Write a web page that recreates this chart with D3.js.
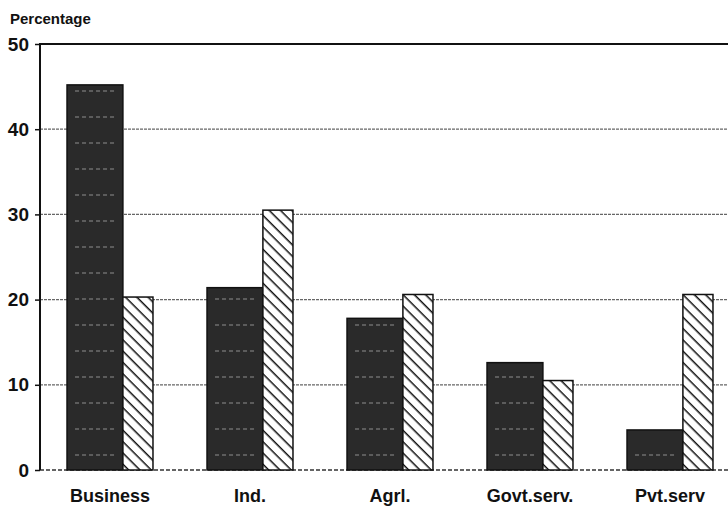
<!DOCTYPE html>
<html>
  <head>
    <meta charset="utf-8">
    <title>Percentage by occupation</title>
    <script src="https://d3js.org/d3.v7.min.js"></script>
    <style>
      body { margin: 0; background: #fff; }
      text { font-family: "Liberation Sans", Arial, sans-serif; font-weight: bold; fill: #111; }
    </style>
  </head>
  <body>
    <script>
      // chart values
      const categories = ["Business", "Ind.", "Agrl.", "Govt.serv.", "Pvt.serv"];
      const darkValues = [45.2, 21.4, 17.8, 12.6, 4.7];
      const hatchValues = [20.3, 30.5, 20.6, 10.5, 20.6];
      const yTicks = [0, 10, 20, 30, 40, 50];

      const width = 728;
      const height = 510;
      const plotLeft = 40;
      const plotTop = 44;
      const plotBottom = 470;

      const svg = d3.select("body").append("svg")
        .attr("width", width)
        .attr("height", height);

      const defs = svg.append("defs");

      // diagonal hatch (\\\) for the second series
      const hatch = defs.append("pattern")
        .attr("id", "hatch")
        .attr("patternUnits", "userSpaceOnUse")
        .attr("width", 8)
        .attr("height", 8)
        .attr("patternTransform", "rotate(45)");
      hatch.append("rect").attr("width", 8).attr("height", 8).attr("fill", "#fff");
      hatch.append("line")
        .attr("x1", 0).attr("y1", 0).attr("x2", 8).attr("y2", 0)
        .attr("stroke", "#111").attr("stroke-width", 3);

      // dark photocopied fill with faint light dashes
      const dark = defs.append("pattern")
        .attr("id", "dark")
        .attr("patternUnits", "userSpaceOnUse")
        .attr("width", 56)
        .attr("height", 26);
      dark.append("rect").attr("width", 56).attr("height", 26).attr("fill", "#2a2a2a");
      dark.append("line")
        .attr("x1", 8).attr("y1", 13).attr("x2", 48).attr("y2", 13)
        .attr("stroke", "#bbb").attr("stroke-width", 1.5)
        .attr("stroke-dasharray", "4,3").attr("opacity", 0.45);

      const x = d3.scaleBand()
        .domain(categories)
        .range([plotLeft, plotLeft + 700])
        .paddingInner(0.386)
        .paddingOuter(0.193);

      const y = d3.scaleLinear()
        .domain([0, 50])
        .range([plotBottom, plotTop]);

      // position inside a group: dark bar then hatched bar
      const inner = d3.scaleLinear().domain([0, 1]).range([0, x.bandwidth()]);
      const split = 0.65;

      // gridlines
      svg.append("g")
        .selectAll("line")
        .data(yTicks.filter(d => d > 0 && d < 50))
        .join("line")
          .attr("x1", plotLeft)
          .attr("x2", width)
          .attr("y1", d => y(d))
          .attr("y2", d => y(d))
          .attr("stroke", "#666")
          .attr("stroke-width", 1.3)
          .attr("stroke-dasharray", "3,1");

      // zero baseline
      svg.append("line")
        .attr("x1", plotLeft).attr("x2", width)
        .attr("y1", y(0)).attr("y2", y(0))
        .attr("stroke", "#333")
        .attr("stroke-width", 1.5)
        .attr("stroke-dasharray", "4,2");

      const groups = svg.append("g")
        .selectAll("g")
        .data(categories)
        .join("g")
          .attr("transform", d => "translate(" + x(d) + ",0)");

      groups.append("rect")
        .attr("x", inner(0))
        .attr("width", inner(split) - inner(0))
        .attr("y", (d, i) => y(darkValues[i]))
        .attr("height", (d, i) => y(0) - y(darkValues[i]))
        .attr("fill", "url(#dark)")
        .attr("stroke", "#111")
        .attr("stroke-width", 1.5);

      groups.append("rect")
        .attr("x", inner(split))
        .attr("width", inner(1) - inner(split))
        .attr("y", (d, i) => y(hatchValues[i]))
        .attr("height", (d, i) => y(0) - y(hatchValues[i]))
        .attr("fill", "url(#hatch)")
        .attr("stroke", "#111")
        .attr("stroke-width", 1.5);

      // frame: left axis and top line
      svg.append("path")
        .attr("d", "M" + plotLeft + "," + y(0) + "V" + y(50) + "H" + width)
        .attr("fill", "none")
        .attr("stroke", "#111")
        .attr("stroke-width", 2);

      const yAxis = d3.axisLeft(y)
        .tickValues(yTicks)
        .tickSize(5)
        .tickPadding(6);

      svg.append("g")
        .attr("transform", "translate(" + plotLeft + ",0)")
        .call(yAxis)
        .call(g => g.select(".domain").remove())
        .call(g => g.selectAll("line").attr("stroke", "#111").attr("stroke-width", 1.5))
        .call(g => g.selectAll("text")
          .attr("font-size", 19)
          .attr("font-family", "'Liberation Sans', Arial, sans-serif")
          .attr("font-weight", "bold")
          .attr("fill", "#111"));

      const xAxis = d3.axisBottom(x).tickSize(0).tickPadding(19);

      svg.append("g")
        .attr("transform", "translate(0," + y(0) + ")")
        .call(xAxis)
        .call(g => g.select(".domain").remove())
        .call(g => g.selectAll("text")
          .attr("font-size", 18)
          .attr("font-family", "'Liberation Sans', Arial, sans-serif")
          .attr("font-weight", "bold")
          .attr("fill", "#111"));

      svg.append("text")
        .attr("x", 10)
        .attr("y", 24)
        .attr("font-size", 15)
        .text("Percentage");
    </script>
  </body>
</html>
